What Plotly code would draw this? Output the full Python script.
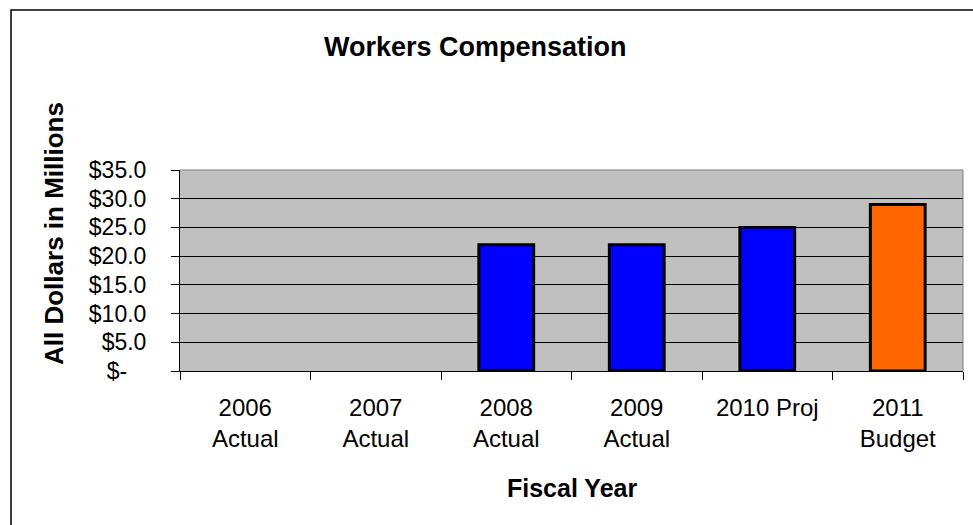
import plotly.graph_objects as go

# Fiscal years and spending (millions of dollars)
categories = ["2006<br>Actual", "2007<br>Actual", "2008<br>Actual",
              "2009<br>Actual", "2010 Proj", "2011<br>Budget"]
values = [None, None, 22.0, 22.0, 25.0, 29.0]
bar_colors = ["#0000FF", "#0000FF", "#0000FF", "#0000FF", "#0000FF", "#FF6600"]

y_tickvals = [0, 5, 10, 15, 20, 25, 30, 35]
y_ticktext = ["$-" + "\u00a0" * 3, "$5.0", "$10.0", "$15.0", "$20.0",
              "$25.0", "$30.0", "$35.0"]

W, H = 973, 525
ML, MR, MT, MB = 180, 10, 170, 154
PW, PH = W - ML - MR, H - MT - MB


def px_x(x):
    return (x - ML) / PW


def px_y(y):
    return (H - MB - y) / PH


FONT = "Liberation Sans, Arial, sans-serif"

fig = go.Figure(
    go.Bar(
        x=categories,
        y=values,
        width=0.42,
        marker=dict(color=bar_colors, line=dict(color="black", width=3)),
        hoverinfo="x+y",
    )
)

fig.update_layout(
    width=W,
    height=H,
    margin=dict(l=ML, r=MR, t=MT, b=MB),
    paper_bgcolor="white",
    plot_bgcolor="#C0C0C0",
    showlegend=False,
    font=dict(family=FONT, color="black", size=23),
    xaxis=dict(
        type="category",
        tickson="boundaries",
        ticks="outside",
        ticklen=8,
        tickcolor="black",
        tickwidth=1,
        showgrid=False,
        showline=True,
        linecolor="black",
        linewidth=1,
        tickfont=dict(size=24),
        ticklabelstandoff=15,
    ),
    yaxis=dict(
        range=[0, 35],
        tickmode="array",
        tickvals=y_tickvals,
        ticktext=y_ticktext,
        ticks="outside",
        ticklen=8,
        tickcolor="black",
        showgrid=True,
        gridcolor="black",
        gridwidth=1,
        showline=True,
        linecolor="black",
        linewidth=1,
        zeroline=False,
        tickfont=dict(size=23),
        ticklabelstandoff=20,
    ),
    shapes=[
        # outer chart frame
        dict(type="rect", xref="paper", yref="paper",
             x0=px_x(11), x1=px_x(W + 20), y0=px_y(H + 20), y1=px_y(10),
             line=dict(color="black", width=1.5), fillcolor="rgba(0,0,0,0)",
             layer="below"),
        # plot area border
        dict(type="line", xref="paper", yref="paper", x0=0, x1=1, y0=1, y1=1,
             line=dict(color="#808080", width=1)),
        dict(type="line", xref="paper", yref="paper", x0=1, x1=1, y0=0, y1=1,
             line=dict(color="#808080", width=1)),
    ],
    annotations=[
        dict(text="<b>Workers Compensation</b>", xref="paper", yref="paper",
             x=px_x(475), y=px_y(47), xanchor="center", yanchor="middle",
             showarrow=False, font=dict(size=27)),
        dict(text="<b>Fiscal Year</b>", xref="paper", yref="paper",
             x=px_x(572), y=px_y(488), xanchor="center", yanchor="middle",
             showarrow=False, font=dict(size=25)),
        dict(text="<b>All Dollars in Millions</b>", xref="paper", yref="paper",
             x=px_x(54), y=px_y(234), xanchor="center", yanchor="middle",
             textangle=-90, showarrow=False, font=dict(size=26)),
    ],
)

fig.write_html("out.html")
